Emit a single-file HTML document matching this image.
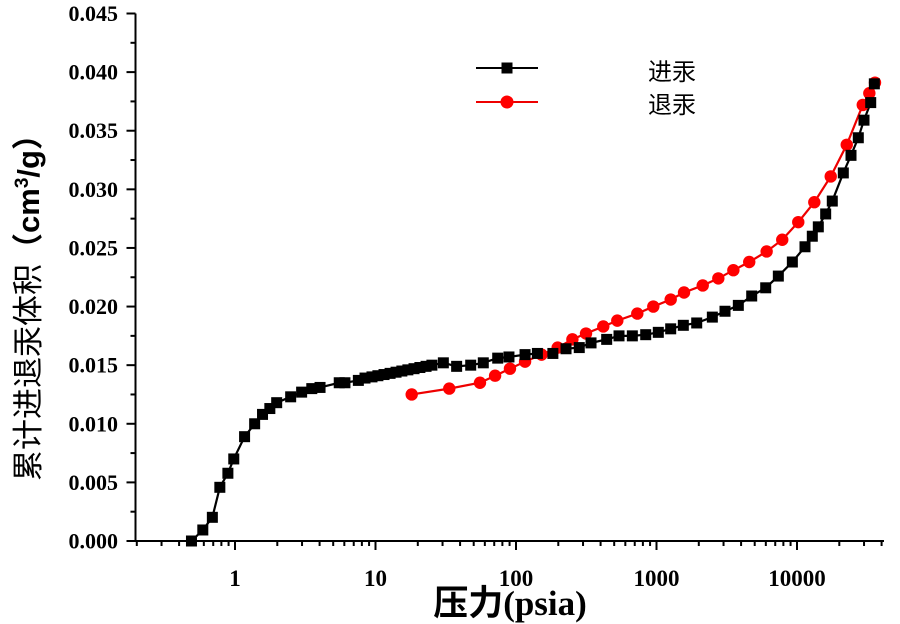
<!DOCTYPE html>
<html><head><meta charset="utf-8"><style>
body{margin:0;background:#fff}
svg{display:block}
</style></head><body>
<svg id="chart" width="900" height="624" xmlns="http://www.w3.org/2000/svg">
<g id="axes"></g>
<g id="series"></g>
<g>
  <line x1="476" y1="68" x2="538" y2="68" stroke="#000" stroke-width="2"/>
  <rect x="501.5" y="62.5" width="11" height="11" fill="#000"/>
  <text x="648" y="80" font-family="Liberation Sans, Noto Sans CJK SC, sans-serif" font-size="24">进汞</text>
  <line x1="476" y1="102" x2="538" y2="102" stroke="#e00" stroke-width="2"/>
  <circle cx="507" cy="102" r="6.5" fill="#f00"/>
  <text x="648" y="113" font-family="Liberation Sans, Noto Sans CJK SC, sans-serif" font-size="24">退汞</text>
</g>
<text x="510" y="615" text-anchor="middle" font-family="Liberation Serif, Noto Sans CJK SC, serif" font-weight="bold" font-size="35">压力(psia)</text>
<text transform="translate(39,300) rotate(-90)" text-anchor="middle" font-family="Liberation Sans, Noto Sans CJK SC, sans-serif" font-size="31">累计进退汞体积<tspan font-weight="bold">（cm<tspan font-size="19" dy="-11">3</tspan><tspan dy="11">/g）</tspan></tspan></text>
</svg>
<script>
const yTicks=[0,0.005,0.01,0.015,0.02,0.025,0.03,0.035,0.04,0.045];
const yTickLabels=["0.000","0.005","0.010","0.015","0.020","0.025","0.030","0.035","0.040","0.045"];
const xTicks=[1,10,100,1000,10000];
const xTickLabels=["1","10","100","1000","10000"];
const intrP=[0.49,0.59,0.69,0.78,0.89,0.98,1.17,1.38,1.57,1.77,1.98,2.49,2.98,3.52,4.03,5.52,6.06,7.55,8.42,9.44,10.4,11.5,12.7,14.0,15.4,17.0,18.8,20.7,22.9,25.2,30.4,37.8,47.6,58.5,74.1,89.1,116,142,183,227,282,342,442,541,673,838,1030,1262,1552,1933,2497,3073,3823,4760,5988,7364,9266,11400,12850,14180,16000,17830,21360,24230,27310,29980,33470,35520];
const intrV=[0.0000,0.00094,0.00202,0.00458,0.00578,0.0070,0.0089,0.0100,0.0108,0.0113,0.0118,0.0123,0.0127,0.0130,0.0131,0.0135,0.0135,0.0137,0.0139,0.0140,0.0141,0.0142,0.0143,0.0144,0.0145,0.0146,0.0147,0.0148,0.0149,0.0150,0.0152,0.0149,0.0150,0.0152,0.0156,0.0157,0.0159,0.0160,0.0160,0.0164,0.0165,0.0169,0.0172,0.0175,0.0175,0.0176,0.0178,0.0181,0.0184,0.0186,0.0191,0.0196,0.0201,0.0209,0.0216,0.0226,0.0238,0.0251,0.0260,0.0268,0.0279,0.0290,0.0314,0.0329,0.0344,0.0359,0.0374,0.0390];
const extrP=[18.1,33.5,55.4,71.0,90.6,116,152,198,252,315,418,526,730,949,1262,1570,2133,2754,3524,4571,6080,7852,10210,13280,17380,22600,29380,32720,35900];
const extrV=[0.0125,0.0130,0.0135,0.0141,0.0147,0.0153,0.0159,0.0165,0.0172,0.0177,0.0183,0.0188,0.0194,0.0200,0.0206,0.0212,0.0218,0.0224,0.0231,0.0238,0.0247,0.0257,0.0272,0.0289,0.0311,0.0338,0.0372,0.0382,0.0391];

const NS="http://www.w3.org/2000/svg";
const X0=135.5,Y0=541,PX1=235,DEC=140.5,YTOP=13.5,XEND=884;
function sx(v){return PX1+Math.log10(v)*DEC;}
function sy(v){return Y0-(v/0.045)*(Y0-YTOP);}
function mk(tag,attrs,parent){const e=document.createElementNS(NS,tag);for(const k in attrs)e.setAttribute(k,attrs[k]);parent.appendChild(e);return e;}
const ax=document.getElementById('axes');
let e;
e=mk('line',{x1:X0,y1:YTOP,x2:X0,y2:Y0,stroke:'#000','stroke-width':2},ax);


e=mk('line',{x1:X0-1,y1:Y0,x2:XEND,y2:Y0,stroke:'#000','stroke-width':2},ax);


yTicks.forEach((t,i)=>{
  const y=sy(t);
  e=mk('line',{x1:X0-9,y1:y,x2:X0,y2:y,stroke:'#000','stroke-width':2},ax);
  
  
  if(i<yTicks.length-1){const ym=sy(t+0.0025);
    e=mk('line',{x1:X0-5,y1:ym,x2:X0,y2:ym,stroke:'#000','stroke-width':2},ax);
    
    }
  e=mk('text',{x:118,y:y+7.5,'text-anchor':'end','font-family':'Liberation Serif, serif','font-weight':'bold','font-size':22},ax);
  e.textContent=yTickLabels[i];
  
  
});
for(let d=-1;d<=4;d++){for(let m=1;m<10;m++){const v=m*Math.pow(10,d);const x=sx(v);if(x<X0+1||x>XEND)continue;
  e=mk('line',{x1:x,y1:Y0,x2:x,y2:Y0+(m==1?9:5),stroke:'#000','stroke-width':2},ax);
  
  }}
xTicks.forEach((t,i)=>{
  e=mk('text',{x:sx(t),y:586,'text-anchor':'middle','font-family':'Liberation Serif, serif','font-weight':'bold','font-size':23},ax);
  e.textContent=xTickLabels[i];
  
  
});
const sg=document.getElementById('series');
function poly(P,V,color,name){
  e=mk('polyline',{points:P.map((p,i)=>sx(p)+','+sy(V[i])).join(' '),fill:'none',stroke:color,'stroke-width':2.2},sg);
  
  
}
poly(intrP,intrV,'#000','intrusion');
poly(extrP,extrV,'#e00','extrusion');
extrP.forEach((p,i)=>{
  e=mk('circle',{cx:sx(p),cy:sy(extrV[i]),r:6.2,fill:'#f00'},sg);
  
  
});
intrP.forEach((p,i)=>{
  e=mk('rect',{x:sx(p)-5.5,y:sy(intrV[i])-5.5,width:11,height:11,fill:'#000'},sg);
  
  
});
</script>
</body></html>
